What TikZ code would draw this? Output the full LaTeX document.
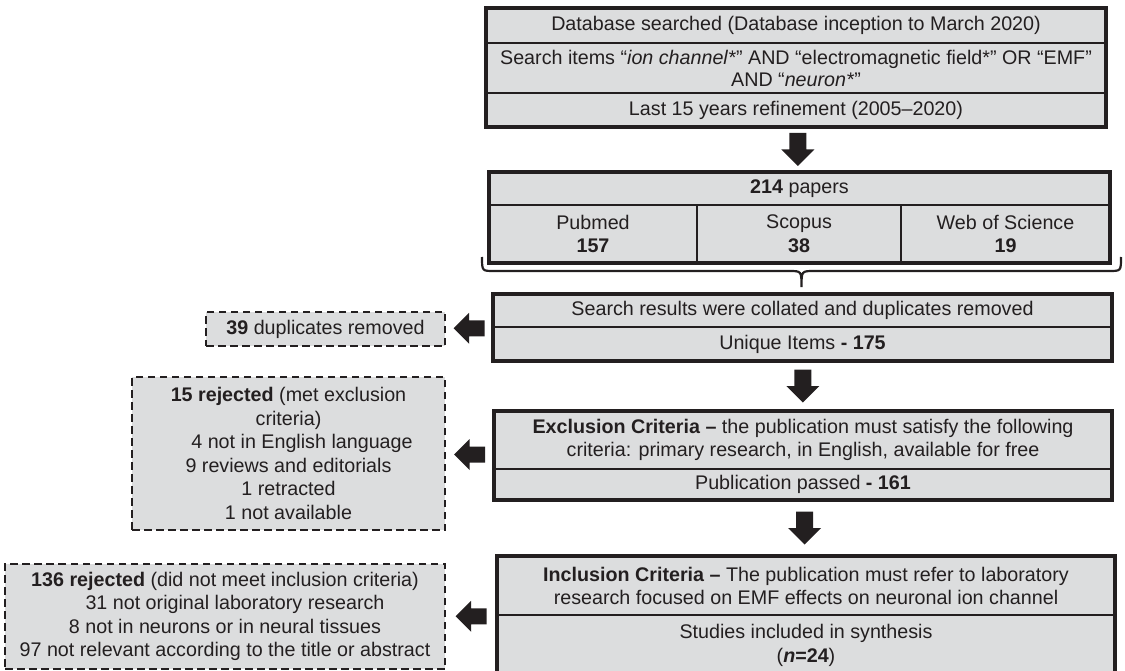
\documentclass[tikz,border=0pt]{standalone}
\usepackage{fontspec}
\setmainfont{Liberation Sans}
\usetikzlibrary{calc,fit}
\definecolor{ink}{HTML}{231F20}
\definecolor{boxgray}{HTML}{DCDDDE}
\begin{document}
\begin{tikzpicture}[x=1pt,y=-1pt,
  every node/.style={text=ink, font=\fontsize{19.7}{23.6}\selectfont},
  cell/.style={draw=ink, line width=2.5pt, fill=boxgray, rectangle, inner sep=0pt, outer sep=0pt, anchor=north west, align=center},
  frame/.style={draw=ink, line width=3.3pt, rectangle, inner sep=0pt, outer sep=0pt, fill=none},
  dbox/.style={draw=ink, line width=2.6pt, dash pattern=on 7.5pt off 4.5pt, fill=boxgray, rectangle, inner sep=0pt, outer sep=0pt, anchor=north west, align=center},
  downarr/.pic={\fill[ink] (-8.5,-16.5) -- (8.5,-16.5) -- (8.5,0) -- (16.5,0) -- (0,16.5) -- (-16.5,0) -- (-8.5,0) -- cycle;},
  leftarr/.pic={\fill[ink] (15.5,-8) -- (15.5,8) -- (0,8) -- (0,15.5) -- (-15.5,0) -- (0,-15.5) -- (0,-8) -- cycle;},
  bracepath/.style={draw=ink, line width=2.2pt}
]
\useasboundingbox (0,0) rectangle (1125,671);

% top block
\node[cell, minimum width=620, minimum height=35] (t1) at (486,8) {Database searched (Database inception to March 2020)};
\node[cell, minimum width=620, minimum height=50, font=\fontsize{19.7}{22}\selectfont] (t2) at (486,43) {Search items “\textit{ion channel*}” AND “electromagnetic field*” OR “EMF”\\AND “\textit{neuron*}”};
\node[cell, minimum width=620, minimum height=34] (t3) at (486,93) {Last 15 years refinement (2005–2020)};
\node[frame, fit=(t1)(t3)] (tfr) {};

% papers block
\node[cell, minimum width=621, minimum height=33] (p0) at (489,172) {\textbf{214} papers};
\node[cell, minimum width=208, minimum height=58] (p1) at (489,205) {Pubmed\\\textbf{157}};
\node[cell, minimum width=204, minimum height=58] (p2) at (697,205) {Scopus\\\textbf{38}};
\node[cell, minimum width=209, minimum height=58] (p3) at (901,205) {Web of Science\\\textbf{19}};
\node[frame, fit=(p0)(p1)(p3)] (pfr) {};

% brace
\coordinate (bl) at (482,257);
\coordinate (br) at (1121,257);
\coordinate (btip) at (801.5,287);
\draw[bracepath] (bl) .. controls (482,271) .. (494,271) -- (789,271)
  .. controls (801.5,271) .. (btip) .. controls (801.5,271) .. (814,271)
  -- (1109,271) .. controls (1121,271) .. (br);

% search block
\node[cell, minimum width=619, minimum height=33] (s1) at (493,294) {Search results were collated and duplicates removed};
\node[cell, minimum width=619, minimum height=34] (s2) at (493,327) {Unique Items \textbf{- 175}};
\node[frame, fit=(s1)(s2)] (sfr) {};

% exclusion block
\node[cell, minimum width=618, minimum height=58] (e1) at (494,411) {\textbf{Exclusion Criteria –} the publication must satisfy the following\\criteria: primary research, in English, available for free};
\node[cell, minimum width=618, minimum height=31] (e2) at (494,469) {Publication passed \textbf{- 161}};
\node[frame, fit=(e1)(e2)] (efr) {};

% inclusion block
\node[cell, minimum width=618, minimum height=59, font=\fontsize{19.7}{23}\selectfont] (i1) at (497,556) {\textbf{Inclusion Criteria –} The publication must refer to laboratory\\research focused on EMF effects on neuronal ion channel};
\node[cell, minimum width=618, minimum height=61] (i2) at (497,615) {Studies included in synthesis\\(\textbf{\textit{n}=24})};
\node[frame, fit=(i1)(i2)] (ifr) {};

% dashed side boxes
\node[dbox, minimum width=239, minimum height=34] (d1) at (206,312) {\textbf{39} duplicates removed};
\node[dbox, minimum width=313, minimum height=153] (d2) at (132,377) {\textbf{15 rejected} (met exclusion\\criteria)\\\hspace*{27pt}4 not in English language\\9 reviews and editorials\\1 retracted\\1 not available};
\node[dbox, minimum width=440, minimum height=105] (d3) at (5,564) {\textbf{136 rejected} (did not meet inclusion criteria)\\\hspace*{20pt}31 not original laboratory research\\8 not in neurons or in neural tissues\\97 not relevant according to the title or abstract};

% block arrows
\pic at ($(t3.south)!0.5!(p0.north)$) {downarr};
\pic at ($(s2.south)!0.5!(e1.north)$) {downarr};
\pic at ($(e2.south)!0.5!(i1.north)$) {downarr};
\pic at ($(d1.east)!0.5!(sfr.west)$) {leftarr};
\pic at ($(d2.east)!0.5!(efr.west)$) {leftarr};
\pic at ($(d3.east)!0.5!(ifr.west)$) {leftarr};
\end{tikzpicture}
\end{document}
